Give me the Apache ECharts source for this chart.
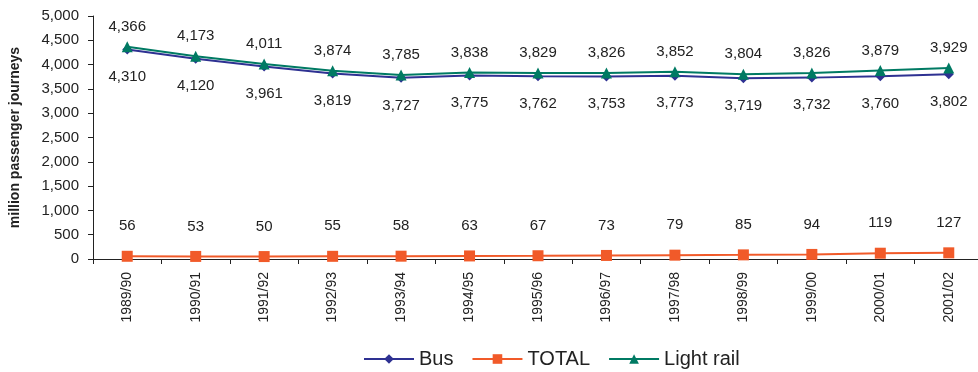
<!DOCTYPE html>
<html>
<head>
<meta charset="utf-8">
<script src="https://cdn.jsdelivr.net/npm/echarts@6/dist/echarts.min.js"></script>
<style>
  html, body { margin: 0; padding: 0; background: #fff; }
  #chart { width: 978px; height: 372px; }
</style>
</head>
<body>
<div id="chart"></div>
<script>
// Passenger journeys by year (million)
const years = ['1989/90','1990/91','1991/92','1992/93','1993/94','1994/95','1995/96',
               '1996/97','1997/98','1998/99','1999/00','2000/01','2001/02'];
const busValues = [4310, 4120, 3961, 3819, 3727, 3775, 3762, 3753, 3773, 3719, 3732, 3760, 3802];
const totalValues = [56, 53, 50, 55, 58, 63, 67, 73, 79, 85, 94, 119, 127];
const lightRailValues = [4366, 4173, 4011, 3874, 3785, 3838, 3829, 3826, 3852, 3804, 3826, 3879, 3929];
const yTicks = { min: 0, max: 5000, interval: 500 };

const fontFamily = '"Liberation Sans", Arial, sans-serif';
const numFmt = p => p.value.toLocaleString('en-US');

const chart = echarts.init(document.getElementById('chart'), null, { renderer: 'canvas' });

function labelCfg(position, distance) {
  return {
    show: true,
    position: position,
    distance: distance,
    formatter: numFmt,
    color: '#222',
    fontSize: 15,
    fontFamily: fontFamily
  };
}

chart.setOption({
  animation: false,
  backgroundColor: '#fff',
  // the last category band runs slightly past the right edge of the canvas
  grid: { left: 93, width: 890, top: 16, height: 243, outerBoundsMode: 'none', containLabel: false },
  xAxis: {
    type: 'category',
    data: years,
    boundaryGap: true,
    axisLine: { lineStyle: { color: '#222', width: 1 } },
    axisTick: { show: true, length: 5, lineStyle: { color: '#222' } },
    axisLabel: {
      rotate: 90,
      margin: 13,
      color: '#222',
      fontSize: 14,
      fontFamily: fontFamily
    },
    splitLine: { show: false }
  },
  yAxis: {
    type: 'value',
    min: yTicks.min,
    max: yTicks.max,
    interval: yTicks.interval,
    name: 'million passenger journeys',
    nameLocation: 'middle',
    nameGap: 71,
    nameRotate: 90,
    nameTextStyle: { fontWeight: 'bold', fontSize: 14, color: '#222', fontFamily: fontFamily },
    axisLine: { show: true, lineStyle: { color: '#222', width: 1 } },
    axisTick: { show: true, length: 5, lineStyle: { color: '#222' } },
    axisLabel: {
      margin: 14,
      color: '#222',
      fontSize: 15,
      fontFamily: fontFamily,
      formatter: v => v.toLocaleString('en-US')
    },
    splitLine: { show: false }
  },
  legend: {
    top: 344,
    left: 358,
    itemWidth: 50,
    itemHeight: 12,
    itemGap: 18,
    textStyle: { fontSize: 20, color: '#222', fontFamily: fontFamily },
    data: ['Bus', 'TOTAL', 'Light rail']
  },
  series: [
    {
      name: 'Bus',
      type: 'line',
      data: busValues,
      symbol: 'diamond',
      symbolSize: 10,
      color: '#2E3192',
      lineStyle: { width: 2, color: '#2E3192' },
      itemStyle: { color: '#2E3192' },
      label: labelCfg('bottom', 15),
      z: 2
    },
    {
      name: 'TOTAL',
      type: 'line',
      data: totalValues,
      symbol: 'rect',
      symbolSize: 11,
      color: '#F15A29',
      lineStyle: { width: 2, color: '#F15A29' },
      itemStyle: { color: '#F15A29' },
      label: labelCfg('top', 17),
      z: 2
    },
    {
      name: 'Light rail',
      type: 'line',
      data: lightRailValues,
      symbol: 'triangle',
      symbolSize: 11,
      color: '#007A63',
      lineStyle: { width: 2, color: '#007A63' },
      itemStyle: { color: '#007A63' },
      label: labelCfg('top', 7),
      z: 3
    }
  ]
});
</script>
</body>
</html>
